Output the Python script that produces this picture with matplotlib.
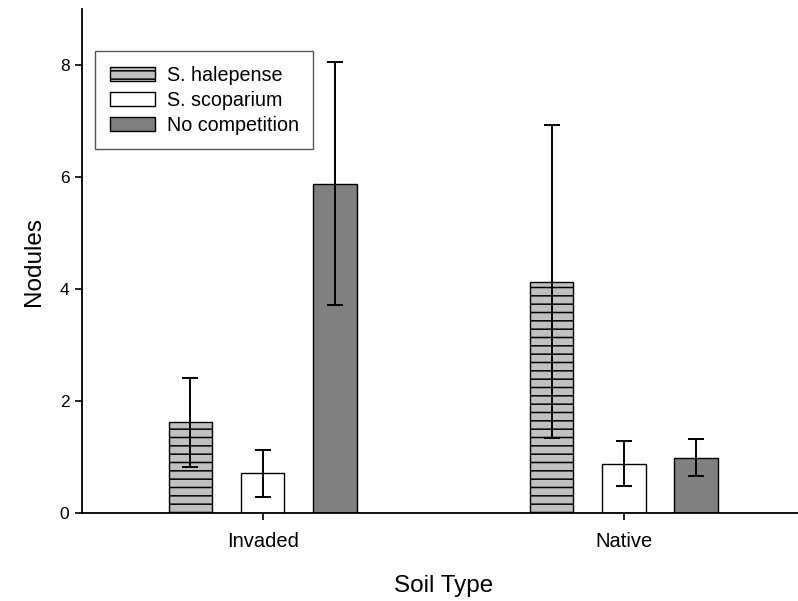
import numpy as np
import matplotlib
matplotlib.use("Agg")
import matplotlib.pyplot as plt

soil_types = ["Invaded", "Native"]
treatments = ["S. halepense", "S. scoparium", "No competition"]

# mean nodule counts and error (one side) per treatment, by soil type
nodules_mean = {
    "S. halepense": [1.62, 4.13],
    "S. scoparium": [0.71, 0.88],
    "No competition": [5.88, 0.99],
}
nodules_err = {
    "S. halepense": [0.79, 2.79],
    "S. scoparium": [0.42, 0.40],
    "No competition": [2.17, 0.33],
}

styles = {
    "S. halepense": dict(facecolor="#c0c0c0", hatch="--"),
    "S. scoparium": dict(facecolor="white", hatch=None),
    "No competition": dict(facecolor="#808080", hatch=None),
}

plt.rcParams["font.family"] = ["Liberation Sans", "DejaVu Sans"]
plt.rcParams["hatch.linewidth"] = 1.1
plt.rcParams["hatch.color"] = "black"

fig = plt.figure(figsize=(7.98, 6.01), dpi=100)
ax = fig.add_axes([82 / 798, (601 - 513) / 601, 722.5 / 798, 504 / 601])

x = np.arange(1, len(soil_types) + 1)
width = 0.12
offsets = [-0.2, 0.0, 0.2]

for name, off in zip(treatments, offsets):
    st = styles[name]
    ax.bar(x + off, nodules_mean[name], width=width, facecolor=st["facecolor"],
           hatch=st["hatch"], edgecolor="black", linewidth=1.0, label=name, zorder=2)
    ax.errorbar(x + off, nodules_mean[name], yerr=nodules_err[name], fmt="none",
                ecolor="black", elinewidth=1.4, capsize=5.8, capthick=1.4, zorder=3)

ax.set_xlim(0.5, 2.5)
ax.set_ylim(0, 9)
ax.set_xticks(x)
ax.set_xticklabels(soil_types)
ax.set_yticks([0, 2, 4, 6, 8])

for side in ["top", "right"]:
    ax.spines[side].set_visible(False)
for side in ["left", "bottom"]:
    ax.spines[side].set_linewidth(1.3)

ax.tick_params(axis="both", direction="out", length=5, width=1.2)
ax.tick_params(axis="y", labelsize=12.5, pad=4)
ax.tick_params(axis="x", labelsize=14.5, pad=9)

ax.set_xlabel("Soil Type", fontsize=17.5, labelpad=17)
ax.set_ylabel("Nodules", fontsize=17.5, labelpad=11)

leg = ax.legend(loc="upper left", bbox_to_anchor=(0.0176, 0.9167), borderaxespad=0,
                fontsize=14.2, fancybox=False, framealpha=1, edgecolor="#555555",
                handlelength=2.3, handleheight=0.7, handletextpad=0.6,
                labelspacing=0.3, borderpad=0.75)
leg.get_frame().set_linewidth(1.0)

fig.savefig("out.png", dpi=100)
